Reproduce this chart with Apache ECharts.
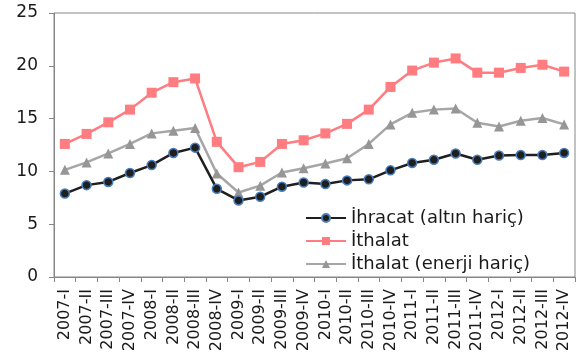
<!DOCTYPE html>
<html>
<head>
<meta charset="utf-8">
<script src="https://cdn.jsdelivr.net/npm/echarts@6/dist/echarts.min.js"></script>
<style>
html,body{margin:0;padding:0;background:#fff;}
#chart{width:582px;height:360px;}
</style>
</head>
<body>
<div id="chart"></div>
<script>
// Quarterly categories
const quarters = [
  '2007-I','2007-II','2007-III','2007-IV',
  '2008-I','2008-II','2008-III','2008-IV',
  '2009-I','2009-II','2009-III','2009-IV',
  '2010-I','2010-II','2010-III','2010-IV',
  '2011-I','2011-II','2011-III','2011-IV',
  '2012-I','2012-II','2012-III','2012-IV'
];

// Exports excluding gold
const ihracat = [7.9, 8.7, 9.0, 9.85, 10.6, 11.75, 12.25, 8.35,
                 7.25, 7.6, 8.55, 8.95, 8.8, 9.15, 9.25, 10.1,
                 10.8, 11.1, 11.7, 11.1, 11.5, 11.55, 11.55, 11.75];

// Imports
const ithalat = [12.6, 13.55, 14.65, 15.85, 17.45, 18.45, 18.8, 12.8,
                 10.4, 10.9, 12.6, 12.95, 13.6, 14.5, 15.85, 18.0,
                 19.55, 20.3, 20.7, 19.35, 19.35, 19.8, 20.1, 19.45];

// Imports excluding energy
const ithalatEnerjiHaric = [10.15, 10.85, 11.7, 12.6, 13.6, 13.85, 14.1, 9.8,
                            8.0, 8.65, 9.9, 10.3, 10.75, 11.25, 12.6, 14.45,
                            15.55, 15.85, 15.95, 14.6, 14.25, 14.8, 15.05, 14.45];

const seriesNames = ['İhracat (altın hariç)', 'İthalat', 'İthalat (enerji hariç)'];
const yTicks = { min: 0, max: 25, interval: 5 };

const fontFamily = 'DejaVu Sans';
const axisColor = '#868686';

const chart = echarts.init(document.getElementById('chart'), null, { renderer: 'canvas' });

chart.setOption({
  animation: false,
  backgroundColor: '#fff',
  textStyle: { fontFamily: fontFamily },
  grid: {
    left: 54, right: 7, top: 13, bottom: 83,
    show: true, borderColor: axisColor, borderWidth: 1
  },
  legend: {
    orient: 'vertical',
    left: 300, top: 204,
    itemWidth: 40, itemHeight: 10, itemGap: 5,
    textStyle: { fontSize: 18, color: '#1a1a1a', fontFamily: fontFamily },
    data: seriesNames
  },
  xAxis: {
    type: 'category',
    data: quarters,
    boundaryGap: true,
    axisLine: { lineStyle: { color: axisColor, width: 1 } },
    axisTick: { show: true, length: 5, lineStyle: { color: axisColor } },
    axisLabel: { rotate: 90, interval: 0, fontSize: 16, color: '#1a1a1a', margin: 12 },
    splitLine: { show: false }
  },
  yAxis: {
    type: 'value',
    min: yTicks.min, max: yTicks.max, interval: yTicks.interval,
    axisLine: { show: true, lineStyle: { color: axisColor, width: 1 } },
    axisTick: { show: true, length: 5, lineStyle: { color: axisColor } },
    axisLabel: { fontSize: 17, color: '#1a1a1a', margin: 16 },
    splitLine: { show: false }
  },
  series: [
    {
      name: seriesNames[0], type: 'line', data: ihracat,
      symbol: 'circle', symbolSize: 9,
      lineStyle: { color: '#1f1f1f', width: 2.5 },
      itemStyle: { color: '#1f1f1f', borderColor: '#4a7ebb', borderWidth: 1.5 },
      z: 4
    },
    {
      name: seriesNames[1], type: 'line', data: ithalat,
      symbol: 'rect', symbolSize: 10,
      lineStyle: { color: '#ff7c80', width: 2.5 },
      itemStyle: { color: '#ff7c80', borderWidth: 0 },
      z: 3
    },
    {
      name: seriesNames[2], type: 'line', data: ithalatEnerjiHaric,
      symbol: 'triangle', symbolSize: 10,
      lineStyle: { color: '#a6a6a6', width: 2.5 },
      itemStyle: { color: '#969696', borderWidth: 0 },
      z: 2
    }
  ]
});
</script>
</body>
</html>
